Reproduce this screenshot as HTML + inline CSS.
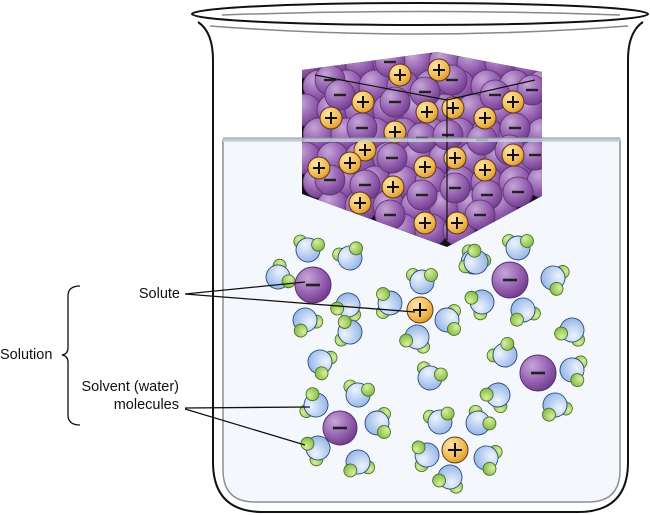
<!DOCTYPE html>
<html><head><meta charset="utf-8"><style>
html,body{margin:0;padding:0;background:#fff;width:650px;height:515px;overflow:hidden}
svg{display:block}
text{font-family:"Liberation Sans",sans-serif;font-size:14.5px;fill:#111}
</style></head><body>
<svg width="650" height="515" viewBox="0 0 650 515" xmlns="http://www.w3.org/2000/svg">
<defs>
<radialGradient id="pg" cx="0.35" cy="0.3" r="0.75"><stop offset="0" stop-color="#c6a6d8"/><stop offset="0.6" stop-color="#9560b0"/><stop offset="1" stop-color="#6e3b8a"/></radialGradient>
<radialGradient id="og" cx="0.35" cy="0.3" r="0.75"><stop offset="0" stop-color="#fde3a8"/><stop offset="0.7" stop-color="#f0b850"/><stop offset="1" stop-color="#d9962e"/></radialGradient>
<radialGradient id="bg" cx="0.35" cy="0.3" r="0.8"><stop offset="0" stop-color="#eef4ff"/><stop offset="1" stop-color="#8fb2e6"/></radialGradient>
<radialGradient id="gg" cx="0.35" cy="0.3" r="0.8"><stop offset="0" stop-color="#d6ef9c"/><stop offset="1" stop-color="#7fb540"/></radialGradient>
<g id="P"><circle r="16" fill="url(#pg)" stroke="#5a2e70" stroke-width="0.8"/></g>
<g id="PM"><circle r="15" fill="url(#pg)" stroke="#5a2e70" stroke-width="0.8"/><rect x="-6" y="-1.2" width="12" height="2.4" fill="#222"/></g>
<g id="O"><circle r="11" fill="url(#og)" stroke="#5a3a10" stroke-width="1"/><rect x="-6" y="-1" width="12" height="2" fill="#111"/><rect x="-1" y="-6" width="2" height="12" fill="#111"/></g>
<g id="W"><circle cx="-9" cy="-7" r="6.5" fill="url(#gg)" stroke="#3f6a1a" stroke-width="0.8"/><circle r="12" fill="url(#bg)" stroke="#2d4a78" stroke-width="0.9"/><circle cx="9" cy="-7" r="6.5" fill="url(#gg)" stroke="#3f6a1a" stroke-width="0.8"/></g>
<clipPath id="cc"><polygon points="302,70 437,52 542,72 542,196 447,247 302,194"/></clipPath>
</defs>
<!-- beaker -->
<path d="M198,22 Q213,32 213,60 L213,462 Q213,512 263,512 L578,512 Q628,512 628,462 L628,60 Q628,32 643,22" fill="#fff" stroke="#111" stroke-width="2"/>
<ellipse cx="420" cy="14" rx="228" ry="11" fill="#fff" stroke="#111" stroke-width="2"/>
<path d="M222,15 Q420,8 620,15" fill="none" stroke="#888" stroke-width="1.5"/>
<path d="M210,26 Q420,42 628,26" fill="none" stroke="#888" stroke-width="1.5"/>
<path d="M223,140 L223,470 Q223,502 255,502 L588,502 Q620,502 620,470 L620,140 Z" fill="#f4f8fd" stroke="#8a8f96" stroke-width="1.5"/>
<!-- crystal -->
<polygon points="302,70 437,52 542,72 542,196 447,247 302,194" fill="#111"/>
<g clip-path="url(#cc)">
<g>
<use href="#P" x="305" y="62"/><use href="#P" x="333" y="62"/><use href="#P" x="361" y="62"/><use href="#P" x="389" y="62"/><use href="#P" x="417" y="62"/><use href="#P" x="445" y="62"/><use href="#P" x="473" y="62"/><use href="#P" x="501" y="62"/><use href="#P" x="529" y="62"/>
<use href="#P" x="319" y="86"/><use href="#P" x="347" y="86"/><use href="#P" x="375" y="86"/><use href="#P" x="403" y="86"/><use href="#P" x="431" y="86"/><use href="#P" x="459" y="86"/><use href="#P" x="487" y="86"/><use href="#P" x="515" y="86"/><use href="#P" x="543" y="86"/>
<use href="#P" x="305" y="110"/><use href="#P" x="333" y="110"/><use href="#P" x="361" y="110"/><use href="#P" x="389" y="110"/><use href="#P" x="417" y="110"/><use href="#P" x="445" y="110"/><use href="#P" x="473" y="110"/><use href="#P" x="501" y="110"/><use href="#P" x="529" y="110"/>
<use href="#P" x="319" y="134"/><use href="#P" x="347" y="134"/><use href="#P" x="375" y="134"/><use href="#P" x="403" y="134"/><use href="#P" x="431" y="134"/><use href="#P" x="459" y="134"/><use href="#P" x="487" y="134"/><use href="#P" x="515" y="134"/><use href="#P" x="543" y="134"/>
<use href="#P" x="305" y="158"/><use href="#P" x="333" y="158"/><use href="#P" x="361" y="158"/><use href="#P" x="389" y="158"/><use href="#P" x="417" y="158"/><use href="#P" x="445" y="158"/><use href="#P" x="473" y="158"/><use href="#P" x="501" y="158"/><use href="#P" x="529" y="158"/>
<use href="#P" x="319" y="182"/><use href="#P" x="347" y="182"/><use href="#P" x="375" y="182"/><use href="#P" x="403" y="182"/><use href="#P" x="431" y="182"/><use href="#P" x="459" y="182"/><use href="#P" x="487" y="182"/><use href="#P" x="515" y="182"/><use href="#P" x="543" y="182"/>
<use href="#P" x="333" y="206"/><use href="#P" x="361" y="206"/><use href="#P" x="389" y="206"/><use href="#P" x="417" y="206"/><use href="#P" x="445" y="206"/><use href="#P" x="473" y="206"/><use href="#P" x="501" y="206"/>
<use href="#P" x="403" y="230"/><use href="#P" x="431" y="230"/><use href="#P" x="459" y="230"/>
</g>
<use href="#PM" x="330" y="80"/><use href="#PM" x="390" y="62"/><use href="#PM" x="452" y="80"/><use href="#PM" x="532" y="90"/>
<use href="#PM" x="340" y="95"/><use href="#PM" x="395" y="102"/><use href="#PM" x="425" y="92"/><use href="#PM" x="495" y="95"/>
<use href="#PM" x="362" y="128"/><use href="#PM" x="422" y="138"/><use href="#PM" x="448" y="135"/><use href="#PM" x="482" y="140"/><use href="#PM" x="515" y="128"/>
<use href="#PM" x="392" y="158"/><use href="#PM" x="510" y="150"/><use href="#PM" x="535" y="155"/>
<use href="#PM" x="330" y="180"/><use href="#PM" x="365" y="185"/><use href="#PM" x="422" y="195"/><use href="#PM" x="455" y="188"/><use href="#PM" x="487" y="195"/><use href="#PM" x="518" y="192"/>
<use href="#PM" x="390" y="215"/><use href="#PM" x="480" y="215"/>
<use href="#O" x="400" y="75"/><use href="#O" x="439" y="70"/><use href="#O" x="363" y="102"/><use href="#O" x="331" y="118"/><use href="#O" x="427" y="112"/><use href="#O" x="453" y="108"/><use href="#O" x="485" y="118"/><use href="#O" x="513" y="102"/><use href="#O" x="395" y="132"/><use href="#O" x="365" y="150"/><use href="#O" x="319" y="168"/><use href="#O" x="350" y="163"/><use href="#O" x="425" y="167"/><use href="#O" x="455" y="158"/><use href="#O" x="485" y="170"/><use href="#O" x="513" y="155"/><use href="#O" x="393" y="187"/><use href="#O" x="360" y="203"/><use href="#O" x="425" y="223"/><use href="#O" x="457" y="223"/>
<path d="M315,75 L447,100 L535,80 M447,100 L447,240" stroke="#111" stroke-width="1.2" fill="none"/>
</g>
<rect x="223" y="138" width="397" height="4" fill="#c9d3de" opacity="0.8"/>
<path d="M223,138 L620,138" stroke="#8a8f96" stroke-width="1"/>
<!-- waters -->
<use href="#W" transform="translate(308,250) rotate(10)"/><use href="#W" transform="translate(350,258) rotate(-20)"/><use href="#W" transform="translate(278,277) rotate(60)"/><use href="#W" transform="translate(348,305) rotate(200)"/><use href="#W" transform="translate(305,320) rotate(150)"/><use href="#W" transform="translate(350,332) rotate(-80)"/><use href="#W" transform="translate(320,362) rotate(120)"/>
<use href="#W" transform="translate(422,282) rotate(0)"/><use href="#W" transform="translate(390,303) rotate(-90)"/><use href="#W" transform="translate(417,337) rotate(200)"/><use href="#W" transform="translate(447,320) rotate(90)"/><use href="#W" transform="translate(473,262) rotate(30)"/>
<use href="#W" transform="translate(518,248) rotate(0)"/><use href="#W" transform="translate(476,262) rotate(-60)"/><use href="#W" transform="translate(553,278) rotate(110)"/><use href="#W" transform="translate(482,302) rotate(240)"/><use href="#W" transform="translate(523,310) rotate(160)"/><use href="#W" transform="translate(572,330) rotate(200)"/>
<use href="#W" transform="translate(505,355) rotate(-40)"/><use href="#W" transform="translate(572,370) rotate(100)"/><use href="#W" transform="translate(498,395) rotate(220)"/><use href="#W" transform="translate(555,405) rotate(160)"/><use href="#W" transform="translate(430,378) rotate(20)"/>
<use href="#W" transform="translate(316,405) rotate(-70)"/><use href="#W" transform="translate(358,395) rotate(10)"/><use href="#W" transform="translate(377,423) rotate(90)"/><use href="#W" transform="translate(318,448) rotate(240)"/><use href="#W" transform="translate(358,462) rotate(170)"/>
<use href="#W" transform="translate(440,422) rotate(-10)"/><use href="#W" transform="translate(478,423) rotate(40)"/><use href="#W" transform="translate(427,455) rotate(-100)"/><use href="#W" transform="translate(486,458) rotate(110)"/><use href="#W" transform="translate(450,477) rotate(200)"/>
<!-- ions -->
<g transform="translate(313,285)"><circle r="18" fill="url(#pg)" stroke="#5a2e70"/><rect x="-7" y="-1.3" width="14" height="2.6" fill="#222"/></g>
<g transform="translate(510,280)"><circle r="18" fill="url(#pg)" stroke="#5a2e70"/><rect x="-7" y="-1.3" width="14" height="2.6" fill="#222"/></g>
<g transform="translate(538,373)"><circle r="18" fill="url(#pg)" stroke="#5a2e70"/><rect x="-7" y="-1.3" width="14" height="2.6" fill="#222"/></g>
<g transform="translate(340,428)"><circle r="17" fill="url(#pg)" stroke="#5a2e70"/><rect x="-7" y="-1.3" width="14" height="2.6" fill="#222"/></g>
<g transform="translate(420,310)"><circle r="13" fill="url(#og)" stroke="#5a3a10"/><rect x="-7" y="-1" width="14" height="2" fill="#111"/><rect x="-1" y="-7" width="2" height="14" fill="#111"/></g>
<g transform="translate(455,450)"><circle r="13" fill="url(#og)" stroke="#5a3a10"/><rect x="-7" y="-1" width="14" height="2" fill="#111"/><rect x="-1" y="-7" width="2" height="14" fill="#111"/></g>
<!-- labels -->
<path d="M185,294 L305,282 M185,294 L415,312 M185,408 L310,407 M185,409 L305,445" stroke="#111" stroke-width="1.3" fill="none"/>
<path d="M80,286 Q68,286 68,296 L68,348 Q68,354 62,355 Q68,356 68,362 L68,415 Q68,425 80,425" stroke="#111" stroke-width="1.3" fill="none"/>
<text x="180" y="298" text-anchor="end">Solute</text>
<text x="0" y="359">Solution</text>
<text x="179" y="391" text-anchor="end">Solvent (water)</text>
<text x="179" y="409" text-anchor="end">molecules</text>
</svg>
</body></html>
